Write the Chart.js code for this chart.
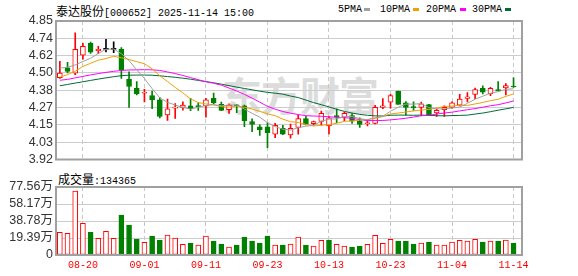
<!DOCTYPE html>
<html>
<head>
<meta charset="utf-8">
<script src="https://cdn.jsdelivr.net/npm/chart.js@4/dist/chart.umd.min.js"></script>
<style>
  body { margin: 0; background: #fff; width: 578px; height: 276px; position: relative; overflow: hidden; font-family: "Noto Sans CJK SC", sans-serif; }
  canvas { position: absolute; left: 0; }
  #price { top: 0; }
  #vol { top: 166px; }
  .t { position: absolute; white-space: nowrap; color: #000; line-height: 14px; }
  .m { font-family: "Liberation Mono", monospace; font-size: 10px; }
  .c { font-size: 12px; }
  .mk { position: absolute; width: 6px; height: 3px; }
  #wm { position: absolute; left: 222px; top: 72px; font-size: 40px; line-height: 44px; font-weight: bold; color: #dcdcdc; letter-spacing: -1px; white-space: nowrap; }
</style>
</head>
<body>
<div id="wm">东方财富</div>
<div class="t" style="left:56px;top:2px"><span class="c">泰达股份</span><span class="m">[000652] 2025-11-14 15:00</span></div>
<div class="t m" style="left:338px;top:3px">5PMA</div><div class="mk" style="left:364px;top:8px;background:#a0a0a0"></div>
<div class="t m" style="left:380px;top:3px">10PMA</div><div class="mk" style="left:413px;top:8px;background:#f0a000"></div>
<div class="t m" style="left:426px;top:3px">20PMA</div><div class="mk" style="left:460px;top:8px;background:#ff00ff"></div>
<div class="t m" style="left:472px;top:3px">30PMA</div><div class="mk" style="left:505px;top:8px;background:#006a35"></div>
<div class="t" style="left:58px;top:170px"><span class="c">成交量</span><span class="m">:134365</span></div>
<canvas id="price" width="578" height="170"></canvas>
<canvas id="vol" width="578" height="110"></canvas>
<script>
// trading days 08-15 .. 11-14
const dates = ['08-15','08-18','08-19','08-20','08-21','08-22','08-25','08-26','08-27','08-28','08-29',
  '09-01','09-02','09-03','09-04','09-05','09-08','09-09','09-10','09-11','09-12','09-15','09-16','09-17','09-18','09-19','09-22','09-23',
  '09-24','09-25','09-26','09-29','09-30','10-09','10-10','10-13','10-14','10-15','10-16','10-17','10-20','10-21','10-22','10-23',
  '10-24','10-27','10-28','10-29','10-30','10-31','11-03','11-04','11-05','11-06','11-07','11-10','11-11','11-12','11-13','11-14'];
const tickDates = ['08-20','09-01','09-11','09-23','10-13','10-23','11-04','11-14'];

const opens = [4.47,4.535,4.50,4.62,4.70,4.65,4.66,4.66,4.66,4.46,
  4.40,4.365,4.35,4.32,4.22,4.265,4.27,4.28,4.28,4.28,
  4.33,4.29,4.255,4.285,4.28,4.175,4.14,4.14,4.09,4.13,
  4.085,4.135,4.195,4.16,4.175,4.145,4.215,4.205,4.215,4.18,
  4.16,4.163,4.27,4.305,4.38,4.30,4.275,4.27,4.288,4.232,
  4.254,4.27,4.284,4.33,4.357,4.398,4.36,4.39,4.40,4.412];
const closes = [4.50,4.512,4.66,4.68,4.64,4.66,4.66,4.66,4.52,4.41,
  4.36,4.37,4.32,4.21,4.26,4.272,4.285,4.262,4.275,4.32,
  4.30,4.25,4.285,4.28,4.18,4.155,4.12,4.10,4.15,4.09,
  4.13,4.195,4.155,4.175,4.23,4.20,4.205,4.23,4.178,4.155,
  4.165,4.27,4.28,4.35,4.29,4.27,4.268,4.293,4.215,4.25,
  4.27,4.30,4.325,4.34,4.39,4.372,4.398,4.38,4.417,4.407];
const highs = [4.58,4.572,4.77,4.70,4.708,4.68,4.727,4.71,4.671,4.508,
  4.443,4.391,4.379,4.335,4.325,4.296,4.307,4.33,4.30,4.331,
  4.366,4.306,4.293,4.29,4.286,4.193,4.152,4.167,4.163,4.15,
  4.157,4.219,4.21,4.178,4.245,4.21,4.26,4.236,4.228,4.20,
  4.185,4.284,4.329,4.357,4.38,4.309,4.307,4.306,4.29,4.26,
  4.28,4.307,4.357,4.37,4.40,4.415,4.404,4.443,4.43,4.469];
const lows = [4.464,4.501,4.49,4.594,4.632,4.63,4.643,4.637,4.464,4.27,
  4.353,4.306,4.262,4.20,4.183,4.196,4.251,4.248,4.25,4.204,
  4.293,4.248,4.23,4.235,4.141,4.107,4.081,4.00,4.067,4.086,
  4.064,4.09,4.152,4.15,4.15,4.092,4.167,4.18,4.163,4.135,
  4.146,4.159,4.262,4.264,4.29,4.217,4.249,4.215,4.215,4.21,
  4.21,4.264,4.28,4.307,4.329,4.361,4.348,4.38,4.353,4.404];

const ma5 = [4.533,4.540,4.555,4.578,4.600,4.632,4.660,4.662,4.630,4.584,
  4.522,4.464,4.396,4.334,4.304,4.286,4.269,4.258,4.271,4.283,
  4.288,4.281,4.286,4.287,4.259,4.230,4.204,4.167,4.141,4.123,
  4.118,4.133,4.144,4.149,4.177,4.191,4.193,4.208,4.209,4.194,
  4.187,4.200,4.210,4.244,4.271,4.292,4.292,4.295,4.268,4.260,
  4.260,4.266,4.272,4.297,4.325,4.345,4.365,4.376,4.391,4.395];
const ma10 = [4.473,4.490,4.512,4.545,4.566,4.587,4.598,4.613,4.603,4.591,
  4.577,4.563,4.529,4.482,4.444,4.404,4.367,4.327,4.302,4.293,
  4.287,4.275,4.272,4.279,4.271,4.259,4.243,4.227,4.214,4.191,
  4.174,4.169,4.156,4.145,4.150,4.155,4.163,4.176,4.179,4.185,
  4.189,4.196,4.209,4.226,4.232,4.239,4.246,4.252,4.256,4.266,
  4.276,4.279,4.284,4.283,4.293,4.303,4.315,4.324,4.344,4.360];
const ma20 = [4.452,4.458,4.468,4.478,4.488,4.497,4.505,4.512,4.518,4.521,
  4.522,4.523,4.522,4.518,4.508,4.497,4.484,4.470,4.456,4.442,
  4.432,4.419,4.400,4.380,4.357,4.332,4.305,4.277,4.258,4.242,
  4.231,4.222,4.214,4.212,4.210,4.207,4.203,4.201,4.196,4.188,
  4.181,4.182,4.182,4.186,4.191,4.197,4.205,4.214,4.217,4.225,
  4.232,4.238,4.246,4.254,4.262,4.271,4.281,4.288,4.300,4.313];
const ma30 = [4.415,4.424,4.433,4.442,4.451,4.460,4.468,4.476,4.483,4.486,
  4.487,4.487,4.486,4.482,4.477,4.472,4.466,4.459,4.451,4.443,
  4.435,4.426,4.416,4.406,4.397,4.388,4.379,4.371,4.365,4.359,
  4.346,4.336,4.319,4.302,4.288,4.273,4.257,4.243,4.232,4.223,
  4.217,4.213,4.212,4.217,4.218,4.218,4.217,4.218,4.216,4.214,
  4.213,4.215,4.216,4.218,4.225,4.232,4.241,4.251,4.260,4.270];

// volume in 万
const volumes = [25.9,24.7,73.0,36.1,25.9,19.0,27.0,19.0,45.6,34.2,
  18.3,14.4,21.7,17.1,22.8,19.4,12.2,13.7,11.4,21.7,
  16.0,12.5,9.1,11.4,20.5,16.0,13.7,21.7,11.4,11.4,
  12.5,20.5,11.4,10.3,16.7,17.1,12.2,10.3,9.1,10.3,
  12.2,22.4,13.3,17.9,16.0,16.0,12.5,13.7,14.8,11.4,
  11.4,14.8,16.7,16.0,17.9,14.8,16.0,16.0,17.1,13.44];

const priceMin = 3.92, priceMax = 4.85;
const priceTicks = ['3.92','4.03','4.15','4.27','4.38','4.50','4.62','4.74','4.85'];
const volTicks = [0, 19.39, 38.78, 58.17, 77.56];
const volTickLabels = ['0','19.39万','38.78万','58.17万','77.56万'];

const RED = '#ff0000', GREEN = '#008000', BLACK = '#000000';
const candleCol = opens.map((o, i) => closes[i] > o ? RED : closes[i] < o ? GREEN : BLACK);
const volCol = closes.map((c, i) => (i === 0 || c >= closes[i - 1]) ? RED : GREEN);
const tickIdx = tickDates.map(d => dates.indexOf(d));

const frame = {
  id: 'frame',
  afterDraw(chart) {
    const a = chart.chartArea, ctx = chart.ctx;
    ctx.save();
    ctx.strokeStyle = '#a0a0a0';
    ctx.lineWidth = 2;
    ctx.strokeRect(a.left, a.top, a.right - a.left, a.bottom - a.top);
    ctx.restore();
  }
};

function xScale(showLabels) {
  return {
    type: 'linear', min: -0.5, max: 60.1, offset: false,
    afterBuildTicks: s => { s.ticks = tickIdx.map(v => ({ value: v })); },
    afterFit: s => { s.height = showLabels ? 21 : 0; },
    grid: { color: '#c8c8c8', lineWidth: 1, drawTicks: false, offset: false },
    border: { display: false, dash: [4, 3] },
    ticks: {
      display: showLabels, autoSkip: false, maxRotation: 0, padding: 4,
      color: RED, font: { family: 'Liberation Mono', size: 10 },
      callback: (v, i) => tickDates[i]
    }
  };
}

new Chart(document.getElementById('price'), {
  type: 'bar',
  data: {
    datasets: [
      { type: 'line', data: ma5.map((v, i) => ({ x: i, y: v })), borderColor: '#a0a0a0', borderWidth: 1, pointRadius: 0, order: 0 },
      { type: 'line', data: ma10.map((v, i) => ({ x: i, y: v })), borderColor: '#f0a000', borderWidth: 1, pointRadius: 0, order: 0 },
      { type: 'line', data: ma20.map((v, i) => ({ x: i, y: v })), borderColor: '#ff00ff', borderWidth: 1, pointRadius: 0, order: 0 },
      { type: 'line', data: ma30.map((v, i) => ({ x: i, y: v })), borderColor: '#006a35', borderWidth: 1, pointRadius: 0, order: 0 },
      {
        data: opens.map((o, i) => ({ x: i, y: [o, closes[i]] })),
        barThickness: 5, minBarLength: 1, grouped: false, order: 1,
        backgroundColor: candleCol.map(c => c === RED ? '#ffffff' : c),
        borderColor: candleCol, borderWidth: 1, borderSkipped: false
      },
      {
        data: highs.map((h, i) => ({ x: i, y: [lows[i], h] })),
        barThickness: 1, grouped: false, order: 2,
        backgroundColor: candleCol, borderWidth: 0
      }
    ]
  },
  options: {
    responsive: false, animation: false, events: [],
    layout: { padding: { left: 0, right: 56, top: 21, bottom: 5 } },
    plugins: { legend: { display: false }, tooltip: { enabled: false } },
    scales: {
      x: xScale(false),
      y: {
        min: priceMin, max: priceMax,
        afterBuildTicks: s => { s.ticks = priceTicks.map((t, k) => ({ value: priceMin + k * (priceMax - priceMin) / (priceTicks.length - 1) })); },
        afterFit: s => { s.width = 56; },
        grid: { color: '#cccccc', drawTicks: false },
        border: { display: false },
        ticks: { autoSkip: false, padding: 3, color: '#333', font: { family: 'Liberation Sans', size: 12.5 }, callback: (v, i) => priceTicks[i] }
      }
    }
  },
  plugins: [frame]
});

new Chart(document.getElementById('vol'), {
  type: 'bar',
  data: {
    datasets: [{
      data: volumes.map((v, i) => ({ x: i, y: v })),
      barThickness: 5, grouped: false,
      backgroundColor: volCol.map(c => c === RED ? '#ffffff' : c),
      borderColor: volCol, borderWidth: 1, borderSkipped: false
    }]
  },
  options: {
    responsive: false, animation: false, events: [],
    layout: { padding: { left: 0, right: 56, top: 21, bottom: 0 } },
    plugins: { legend: { display: false }, tooltip: { enabled: false } },
    scales: {
      x: xScale(true),
      y: {
        min: 0, max: volTicks[volTicks.length - 1],
        afterBuildTicks: s => { s.ticks = volTicks.map(v => ({ value: v })); },
        afterFit: s => { s.width = 56; },
        grid: { color: '#cccccc', drawTicks: false },
        border: { display: false },
        ticks: { autoSkip: false, padding: 3, color: '#333', font: { family: 'Liberation Sans, Noto Sans CJK SC', size: 12.5 }, callback: (v, i) => volTickLabels[i] }
      }
    }
  },
  plugins: [frame]
});
</script>
</body>
</html>
